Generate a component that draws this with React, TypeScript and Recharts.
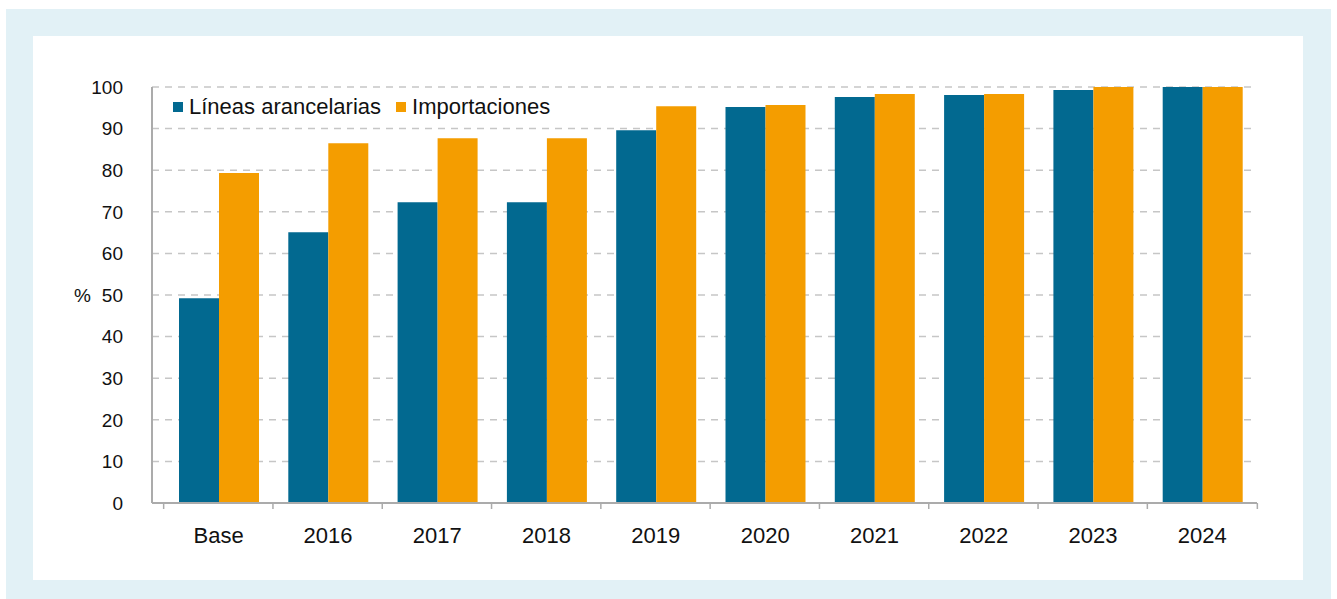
import { BarChart, Bar, XAxis, YAxis, CartesianGrid, Legend } from "recharts";

const categories = ["Base", "2016", "2017", "2018", "2019", "2020", "2021", "2022", "2023", "2024"];
const lineasArancelarias = [49.2, 65.1, 72.3, 72.3, 89.6, 95.2, 97.6, 98.1, 99.3, 100];
const importaciones = [79.3, 86.5, 87.7, 87.7, 95.4, 95.7, 98.3, 98.3, 100, 100];
const yTicks = [0, 10, 20, 30, 40, 50, 60, 70, 80, 90, 100];
const seriesNames = ["Líneas arancelarias", "Importaciones"];

const BLUE = "#026990";
const ORANGE = "#f49d00";
const AXIS = "#ababab";
const HALF_BAND = 55;

const data = categories.map((c, i) => ({
  cat: c,
  lineas: lineasArancelarias[i],
  imp: importaciones[i],
}));

const CategoryTick = (props: any) => {
  const { x, y, payload, index, visibleTicksCount } = props;
  return (
    <g>
      <line x1={x - HALF_BAND} x2={x - HALF_BAND} y1={y} y2={y + 6} stroke={AXIS} strokeWidth={1.5} />
      {index === visibleTicksCount - 1 && (
        <line x1={x + HALF_BAND} x2={x + HALF_BAND} y1={y} y2={y + 6} stroke={AXIS} strokeWidth={1.5} />
      )}
      <text x={x} y={y + 40} textAnchor="middle" fontSize={22} fill="#111">
        {payload.value}
      </text>
    </g>
  );
};

// keep legend in series order (recharts sorts by name otherwise)
const LegendBox = ({ payload }: any) => {
  const items = [...(payload || [])].sort(
    (a: any, b: any) => seriesNames.indexOf(a.value) - seriesNames.indexOf(b.value)
  );
  return (
    <div style={{ display: "flex", alignItems: "center", height: 24 }}>
      {items.map((p: any, i: number) => (
        <div key={p.value} style={{ display: "flex", alignItems: "center", marginRight: i === 0 ? 15 : 0 }}>
          <div style={{ width: 10, height: 10, background: p.color, marginRight: 6 }} />
          <span style={{ fontSize: 22, color: "#111", lineHeight: "24px" }}>{p.value}</span>
        </div>
      ))}
    </div>
  );
};

export default function App() {
  return (
    <div
      style={{
        position: "absolute",
        left: 6,
        top: 9,
        width: 1325,
        height: 590,
        background: "#e2f1f6",
        fontFamily: "'Liberation Sans', Arial, sans-serif",
      }}
    >
      <div style={{ position: "absolute", left: 27, top: 27, width: 1270, height: 544, background: "#fff" }}>
        <BarChart
          width={1270}
          height={544}
          data={data}
          margin={{ top: 51, right: 46, bottom: 17, left: 0 }}
          barGap={0}
          barSize={40}
        >
          <CartesianGrid vertical={false} stroke="#c6c6c6" strokeDasharray="7 6" strokeWidth={1.5} />
          <XAxis
            dataKey="cat"
            height={60}
            padding={{ left: 12, right: 0 }}
            axisLine={{ stroke: AXIS, strokeWidth: 2 }}
            tickLine={false}
            tickSize={0}
            tickMargin={0}
            interval={0}
            tick={<CategoryTick />}
          />
          <YAxis
            width={119}
            domain={[0, 100]}
            ticks={yTicks}
            interval={0}
            axisLine={{ stroke: AXIS, strokeWidth: 2 }}
            tickLine={false}
            tickSize={0}
            tickMargin={29}
            tick={{ fill: "#111", fontSize: 19 }}
            label={{ value: "%", position: "insideLeft", offset: 41, fill: "#111", fontSize: 19 }}
          />
          <Legend
            layout="horizontal"
            align="center"
            verticalAlign="middle"
            content={<LegendBox />}
            wrapperStyle={{ top: 59, left: 140, width: "auto", height: 24 }}
          />
          <Bar dataKey="lineas" name={seriesNames[0]} fill={BLUE} isAnimationActive={false} />
          <Bar dataKey="imp" name={seriesNames[1]} fill={ORANGE} isAnimationActive={false} />
        </BarChart>
      </div>
    </div>
  );
}
